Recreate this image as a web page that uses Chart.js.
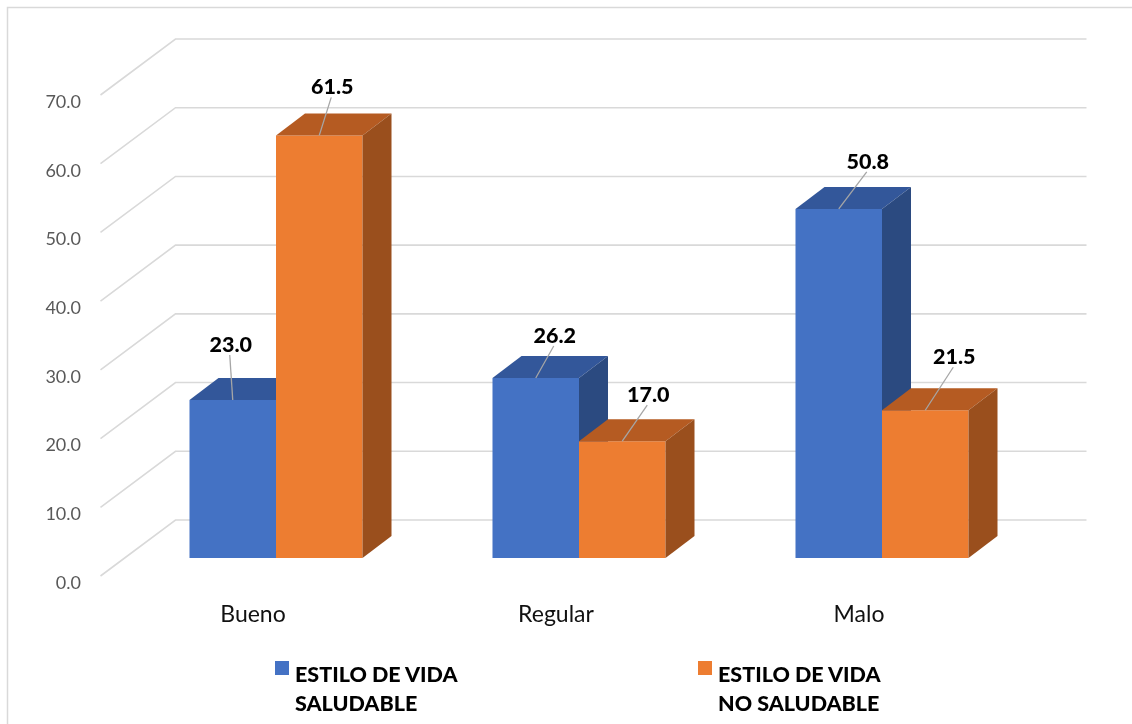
<!DOCTYPE html>
<html>
<head>
<meta charset="utf-8">
<script src="https://cdn.jsdelivr.net/npm/chart.js@4.4.1/dist/chart.umd.min.js"></script>
<style>
  html, body { margin: 0; padding: 0; background: #ffffff; }
  #wrap { position: relative; width: 1132px; height: 724px; overflow: hidden; }
  #c { position: absolute; left: 0; top: 0; }
  .lg-item { position: absolute; top: 660px; font-family: Lato, "Noto Sans", sans-serif; font-weight: 900;
             font-size: 21.5px; line-height: 29px; color: #000; white-space: nowrap; }
  .lg-swatch { position: absolute; left: 0; top: 1px; width: 14px; height: 14px; }
  .lg-text { position: absolute; left: 20px; top: 0; }
</style>
</head>
<body>
<div id="wrap">
  <canvas id="c" width="1132" height="724"></canvas>
  <div id="legend"></div>
</div>
<script>
// Categories and series values
const categories = ['Bueno', 'Regular', 'Malo'];
const saludable = [23.0, 26.2, 50.8];
const noSaludable = [61.5, 17.0, 21.5];
const seriesNames = [['ESTILO DE VIDA', 'SALUDABLE'], ['ESTILO DE VIDA', 'NO SALUDABLE']];
const yAxisMin = 0;
const yAxisMax = 70;
const yAxisStep = 10;

// Face colours for each series: front, top, side
const faceColours = [
  { front: '#4472C4', top: '#33579A', side: '#2B4A80' },
  { front: '#ED7D31', top: '#B55B22', side: '#9A4F1D' }
];

// Oblique projection used for the 3D look
const barDepth = { dx: 29, dy: -22 };
const wallFront = { dx: -24, dy: 18 };
const wallBack = { dx: 51, dy: -38 };

// Where each value label sits relative to the top-front centre of its bar
const labelNudge = [
  [{ dx: -2, dy: -55 }, { dx: 19, dy: -42 }, { dx: 29, dy: -47 }],
  [{ dx: 13, dy: -48 }, { dx: 26, dy: -46 }, { dx: 29, dy: -53 }]
];

function poly(ctx, pts, fill) {
  ctx.beginPath();
  ctx.moveTo(pts[0][0], pts[0][1]);
  for (let i = 1; i < pts.length; i++) ctx.lineTo(pts[i][0], pts[i][1]);
  ctx.closePath();
  ctx.fillStyle = fill;
  ctx.fill();
}

function drawTopAndSide(chart, dsIndex) {
  const ctx = chart.ctx;
  const meta = chart.getDatasetMeta(dsIndex);
  const col = faceColours[dsIndex];
  meta.data.forEach(bar => {
    const p = bar.getProps(['x', 'y', 'width', 'base'], true);
    const l = p.x - p.width / 2, r = p.x + p.width / 2, t = p.y, b = p.base;
    const dx = barDepth.dx, dy = barDepth.dy;
    ctx.save();
    poly(ctx, [[l, t], [r, t], [r + dx, t + dy], [l + dx, t + dy]], col.top);
    poly(ctx, [[r, t], [r + dx, t + dy], [r + dx, b + dy], [r, b]], col.side);
    ctx.restore();
  });
}

const pseudo3d = {
  id: 'pseudo3d',
  beforeDraw(chart) {
    const ctx = chart.ctx;
    ctx.save();
    ctx.strokeStyle = '#D9D9D9';
    ctx.lineWidth = 1.5;
    ctx.beginPath();
    ctx.moveTo(7.5, chart.height);
    ctx.lineTo(7.5, 7.5);
    ctx.lineTo(chart.width, 7.5);
    ctx.stroke();
    ctx.restore();
  },
  beforeDatasetsDraw(chart) {
    // walls: side-wall diagonals and back-wall lines for each tick
    const ctx = chart.ctx, ys = chart.scales.y, area = chart.chartArea;
    ctx.save();
    ctx.strokeStyle = '#D9D9D9';
    ctx.lineWidth = 1.6;
    ys.ticks.forEach(tk => {
      const y = ys.getPixelForValue(tk.value);
      ctx.beginPath();
      ctx.moveTo(area.left + wallFront.dx, y + wallFront.dy);
      ctx.lineTo(area.left + wallBack.dx, y + wallBack.dy);
      ctx.lineTo(area.right + wallBack.dx + 2, y + wallBack.dy);
      ctx.stroke();
    });
    ctx.restore();
  },
  beforeDatasetDraw(chart, args) {
    // the second series is painted first; the first series' hidden faces go underneath it
    if (args.index === 1) drawTopAndSide(chart, 0);
  },
  afterDatasetDraw(chart, args) {
    if (args.index === 1) drawTopAndSide(chart, 1);
  },
  afterDatasetsDraw(chart) {
    const ctx = chart.ctx;
    ctx.save();
    chart.data.datasets.forEach((ds, di) => {
      chart.getDatasetMeta(di).data.forEach((bar, i) => {
        const p = bar.getProps(['x', 'y'], true);
        const n = labelNudge[di][i];
        const lx = p.x + n.dx, ly = p.y + n.dy;
        ctx.strokeStyle = '#A6A6A6';
        ctx.lineWidth = 1.3;
        ctx.beginPath();
        ctx.moveTo(lx - 1, ly + 10);
        ctx.lineTo(p.x, p.y);
        ctx.stroke();
        ctx.fillStyle = '#000000';
        ctx.font = '900 21.5px Lato, "Noto Sans", sans-serif';
        ctx.textAlign = 'center';
        ctx.textBaseline = 'middle';
        ctx.fillText(ds.data[i].toFixed(1), lx, ly);
      });
    });
    ctx.restore();
  }
};

new Chart(document.getElementById('c'), {
  type: 'bar',
  data: {
    labels: categories,
    datasets: [
      { label: seriesNames[0].join(' '), data: saludable, backgroundColor: faceColours[0].front, borderWidth: 0 },
      { label: seriesNames[1].join(' '), data: noSaludable, backgroundColor: faceColours[1].front, borderWidth: 0 }
    ]
  },
  options: {
    responsive: false,
    animation: false,
    events: [],
    layout: { padding: { top: 77, right: 98.5, left: 0, bottom: 0 } },
    datasets: { bar: { categoryPercentage: 0.571, barPercentage: 1.0 } },
    plugins: { legend: { display: false }, tooltip: { enabled: false } },
    scales: {
      x: {
        grid: { display: false, drawTicks: false },
        border: { display: false },
        ticks: {
          color: '#111111',
          font: { family: 'Lato, "Noto Sans", sans-serif', size: 23 },
          padding: 43,
          labelOffset: -23,
          maxRotation: 0
        },
        afterFit: s => { s.height = 166; }
      },
      y: {
        min: yAxisMin,
        max: yAxisMax,
        grid: { display: false, drawTicks: false },
        border: { display: false },
        ticks: {
          stepSize: yAxisStep,
          color: '#595959',
          font: { family: 'Lato, "Noto Sans", sans-serif', size: 18 },
          padding: 43.5,
          labelOffset: 25,
          callback: v => Number(v).toFixed(1)
        },
        afterFit: s => { s.width = 124.5; }
      }
    }
  },
  plugins: [pseudo3d]
});

// Legend built from the series names and colours
const legendLeft = [275, 698];
const legendEl = document.getElementById('legend');
seriesNames.forEach((lines, i) => {
  const item = document.createElement('div');
  item.className = 'lg-item';
  item.style.left = legendLeft[i] + 'px';
  const sw = document.createElement('div');
  sw.className = 'lg-swatch';
  sw.style.background = faceColours[i].front;
  const tx = document.createElement('div');
  tx.className = 'lg-text';
  tx.innerHTML = lines.join('<br>');
  item.appendChild(sw);
  item.appendChild(tx);
  legendEl.appendChild(item);
});
</script>
</body>
</html>
